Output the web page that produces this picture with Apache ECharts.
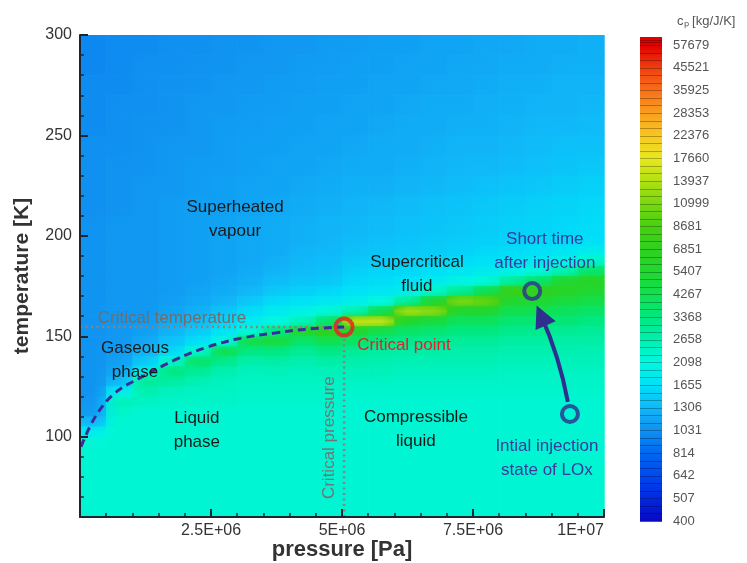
<!DOCTYPE html>
<html><head><meta charset="utf-8">
<script src="https://cdn.jsdelivr.net/npm/echarts@6/dist/echarts.min.js"></script>
<style>html,body{margin:0;padding:0;background:#fff}#c{width:747px;height:563px}</style>
</head><body><div id="c"></div>
<script>
// ---------------- data ----------------
const pressureEdges = [0,0.5e6,1e6,1.5e6,2e6,2.5e6,3e6,3.5e6,4e6,4.5e6,5e6,5.5e6,6e6,6.5e6,7e6,7.5e6,8e6,8.5e6,9e6,9.5e6,1e7];
const temperatureEdges = [300,290,280,270,260,250,240,230,220,210,200,195,190,185,180,175,170,165,160,155,150,145,140,135,130,125,120,115,110,105,100,95,90,85,80,75,70,65,60];
// cp [J/kg/K] per cell, rows from top (300 K) to bottom (60 K), columns from 0 to 1E+07 Pa
const cpGrid = [
 [983,1007,1007,1031,1031,1056,1056,1081,1081,1107,1107,1133,1133,1161,1161,1188,1188,1217,1217,1246],
 [983,1007,1031,1031,1056,1056,1081,1081,1107,1107,1133,1133,1161,1161,1188,1188,1217,1217,1246,1246],
 [1007,1007,1031,1056,1056,1081,1081,1107,1107,1133,1133,1161,1161,1188,1188,1217,1246,1246,1276,1276],
 [1007,1031,1031,1056,1081,1081,1107,1107,1133,1133,1161,1161,1188,1217,1217,1246,1246,1276,1276,1306],
 [1007,1031,1056,1056,1081,1107,1107,1133,1133,1161,1161,1188,1217,1217,1246,1246,1276,1306,1306,1338],
 [1031,1031,1056,1081,1081,1107,1133,1133,1161,1161,1188,1217,1217,1246,1276,1276,1306,1338,1370,1370],
 [1031,1056,1056,1081,1107,1107,1133,1161,1161,1188,1217,1217,1246,1276,1306,1306,1338,1370,1403,1436],
 [1031,1056,1081,1081,1107,1133,1161,1161,1188,1217,1246,1246,1276,1306,1338,1370,1403,1436,1471,1506],
 [1031,1056,1081,1107,1133,1133,1161,1188,1217,1246,1276,1306,1338,1370,1403,1436,1471,1506,1542,1579],
 [1056,1081,1081,1107,1133,1161,1188,1217,1246,1276,1306,1338,1370,1403,1436,1471,1506,1542,1579,1617],
 [1056,1081,1081,1107,1133,1161,1188,1217,1246,1291,1338,1370,1403,1436,1471,1506,1542,1579,1617,1655],
 [1056,1081,1081,1107,1133,1161,1188,1217,1276,1306,1370,1403,1436,1471,1506,1579,1617,1655,1736,1863],
 [1056,1081,1081,1107,1133,1161,1188,1246,1306,1338,1436,1471,1506,1542,1617,1655,1736,1820,2001,2361],
 [1056,1081,1081,1107,1133,1161,1217,1276,1338,1370,1506,1542,1579,1655,1736,1820,1954,2199,2658,3791],
 [1056,1081,1081,1107,1133,1188,1246,1338,1403,1436,1579,1617,1695,1820,2001,2199,2992,3791,5407,6087],
 [1056,1081,1081,1107,1161,1217,1306,1436,1506,1579,1695,1736,1863,2361,2992,4267,7713,6851,6087,5407],
 [1056,1081,1081,1133,1188,1276,1436,1617,1695,1777,1908,2098,2992,5407,10999,9772,5407,5407,4804,4528],
 [1056,1081,1081,1161,1246,1403,1617,1820,1954,2199,2658,4267,12980,11668,5407,5407,4267,4267,4021,3791],
 [1056,1081,1107,1217,1338,1542,1820,2098,2535,3791,14961,14961,5407,4804,4021,4021,3616,3616,3531,3368],
 [1056,1081,1133,1276,1471,1736,2199,3368,5407,6851,5407,4267,3791,3616,3368,3368,3137,3137,3064,2992],
 [1056,1081,1188,1403,1655,2098,4528,4804,3703,4267,3791,3368,3137,3064,2992,2992,2854,2854,2787,2787],
 [1056,1107,1276,1579,2361,4267,3289,3368,2992,3289,2992,2854,2787,2787,2722,2722,2658,2658,2658,2596],
 [1056,1133,1436,2361,3791,3137,2722,2787,2658,2787,2722,2658,2596,2596,2596,2596,2535,2535,2535,2535],
 [1056,1188,1863,3368,2992,2658,2476,2535,2476,2535,2535,2535,2476,2476,2476,2476,2418,2418,2418,2418],
 [1056,1306,2992,2854,2596,2476,2418,2418,2418,2418,2418,2418,2361,2361,2361,2361,2361,2361,2361,2361],
 [1056,1863,2658,2476,2418,2418,2361,2361,2361,2361,2306,2306,2306,2306,2306,2306,2306,2306,2306,2306],
 [1081,2535,2418,2361,2361,2361,2306,2306,2306,2306,2252,2252,2252,2252,2252,2252,2252,2252,2252,2252],
 [1107,2361,2252,2252,2252,2252,2252,2252,2252,2252,2252,2252,2252,2252,2252,2252,2252,2252,2252,2252],
 [1306,2252,2252,2252,2252,2252,2252,2252,2252,2252,2252,2252,2252,2252,2252,2252,2252,2252,2252,2252],
 [1863,2252,2252,2252,2252,2252,2252,2252,2252,2252,2252,2252,2252,2252,2252,2252,2252,2252,2252,2252],
 [2199,2252,2252,2252,2252,2252,2252,2252,2252,2252,2252,2252,2252,2252,2252,2252,2252,2252,2252,2252],
 [2252,2252,2252,2252,2252,2252,2252,2252,2252,2252,2252,2252,2252,2252,2252,2252,2252,2252,2252,2252],
 [2252,2252,2252,2252,2252,2252,2252,2252,2252,2252,2252,2252,2252,2252,2252,2252,2252,2252,2252,2252],
 [2252,2252,2252,2252,2252,2252,2252,2252,2252,2252,2252,2252,2252,2252,2252,2252,2252,2252,2252,2252],
 [2252,2252,2252,2252,2252,2252,2252,2252,2252,2252,2252,2252,2252,2252,2252,2252,2252,2252,2252,2252],
 [2252,2252,2252,2252,2252,2252,2252,2252,2252,2252,2252,2252,2252,2252,2252,2252,2252,2252,2252,2252],
 [2252,2252,2252,2252,2252,2252,2252,2252,2252,2252,2252,2252,2252,2252,2252,2252,2252,2252,2252,2252],
 [2252,2252,2252,2252,2252,2252,2252,2252,2252,2252,2252,2252,2252,2252,2252,2252,2252,2252,2252,2252]
];
const cpLevels = [400,507,642,814,1031,1306,1655,2098,2658,3368,4267,5407,6851,8681,10999,13937,17660,22376,28353,35925,45521,57679];
const xTickLabels = ['', '2.5E+06', '5E+06', '7.5E+06', '1E+07'];
const yTickValues = [100,150,200,250,300];
const satPressure = [0.02e6,0.29e6,0.67e6,1.18e6,1.81e6,2.44e6,3.09e6,3.72e6,4.35e6,5.04e6];
const satTemperature = [95,109.8,121.8,129.7,138.2,144.7,149.1,151.6,153.6,154.6];
const criticalPoint = [5.04e6, 154.6];
const injectionStates = [[9.35e6, 111.3], [8.63e6, 172.5]];
const arrowPath = [[9.31e6, 117.3], [8.80e6, 160.3]];
const regionLabels = [
  {p:2.96e6, t:209, text:'Superheated\nvapour'},
  {p:6.43e6, t:182, text:'Supercritical\nfluid'},
  {p:1.05e6, t:139, text:'Gaseous\nphase'},
  {p:2.23e6, t:104.3, text:'Liquid\nphase'},
  {p:6.41e6, t:104.8, text:'Compressible\nliquid'}
];
const stateLabels = [
  {p:8.87e6, t:193.5, text:'Short time\nafter injection'},
  {p:8.91e6, t:90, text:'Intial injection\nstate of LOx'}
];
const criticalLabels = [
  {p:0.34e6, t:160.1, text:'Critical temperature', kind:'temp'},
  {p:5.29e6, t:146.4, text:'Critical point', kind:'point'},
  {p:4.73e6, t:99.5, text:'Critical pressure', kind:'press'}
];

// ---------------- styles ----------------
const palette = ['#0808c0','#0028e0','#0048f0','#0068f0','#1090f0','#10b8f8','#00e0f8','#00f8e0','#00f0b0','#00e880','#10e050','#20d830','#30d020','#48d010','#78d810','#b0e010','#e8e820','#f8c820','#f8a020','#f87018','#f04010','#e00000'];
const FONT = '"Liberation Sans", Arial, sans-serif';
const axisColor = '#1c2633';
const nLev = cpLevels.length - 1;
const logStep = Math.log(cpLevels[nLev] / cpLevels[0]) / nLev;
function levelIndex(cp){ return Math.log(cp / cpLevels[0]) / logStep; }
function levelColor(l){ return echarts.color.lerp(Math.max(0, Math.min(1, l / nLev)), palette); }

const nCols = pressureEdges.length - 1;
const levelGrid = cpGrid.map(row => row.map(levelIndex));
const fieldData = [];
for (let r = 0; r < cpGrid.length; r++) {
  for (let c = 0; c < nCols; c++) {
    const cp = cpGrid[r][c];
    fieldData.push([pressureEdges[c], pressureEdges[c+1], temperatureEdges[r+1], temperatureEdges[r], cp, levelGrid[r][c]]);
  }
}
const barTop = nLev + 0.353;
const colorbarData = cpLevels.map((v, i) => [i, Math.min(i + 1, barTop)]);

function textRenderer(list, fill, opts) {
  return function (params, api) {
    const item = list[params.dataIndex];
    const pt = api.coord([item.p, item.t]);
    const o = typeof opts === 'function' ? opts(item) : opts;
    return {
      type: 'text', x: pt[0] + (o.dx || 0), y: pt[1] + (o.dy === undefined ? 2 : o.dy), rotation: o.rotation || 0,
      style: { text: item.text, fill: o.fill || fill, font: o.font || ('17px ' + FONT),
        align: o.align || 'center', verticalAlign: 'middle', lineHeight: o.lineHeight || 24 }
    };
  };
}

const chart = echarts.init(document.getElementById('c'), null, {renderer: 'canvas', width: 747, height: 563});
chart.setOption({
  animation: false,
  backgroundColor: '#ffffff',
  title: { text: 'c\u209A [kg/J/K]', left: 672, top: 10, textStyle: { fontSize: 13, fontWeight: 'normal', color: '#555', fontFamily: FONT } },
  grid: [
    { left: 80, top: 35, width: 524, height: 482, outerBoundsMode: 'none', containLabel: false },
    { left: 640, top: 37, width: 22, height: 484, outerBoundsMode: 'none', containLabel: false }
  ],
  xAxis: [
    { type: 'value', gridIndex: 0, min: 0, max: 1e7, interval: 2.5e6, z: 10,
      axisLine: { show: true, onZero: false, lineStyle: { color: axisColor, width: 2 } },
      axisTick: { show: true, inside: true, length: 8, lineStyle: { color: axisColor, width: 2 } },
      minorTick: { show: true, splitNumber: 5, length: 4, lineStyle: { color: axisColor, width: 1.5 } },
      splitLine: { show: false },
      axisLabel: { formatter: v => xTickLabels[Math.round(v / 2.5e6)] || '', fontSize: 16, color: '#333', margin: 6, fontFamily: FONT, alignMaxLabel: 'right' },
      name: 'pressure [Pa]', nameLocation: 'middle', nameGap: 22, nameMoveOverlap: false,
      nameTextStyle: { fontWeight: 'bold', fontSize: 22, color: '#333', fontFamily: FONT } },
    { type: 'value', gridIndex: 1, min: 0, max: 1, show: false }
  ],
  yAxis: [
    { type: 'value', gridIndex: 0, min: 60, max: 300, z: 10,
      axisLine: { show: true, onZero: false, lineStyle: { color: axisColor, width: 2 } },
      axisTick: { show: true, inside: true, length: 8, customValues: yTickValues, lineStyle: { color: axisColor, width: 2 } },
      splitLine: { show: false },
      axisLabel: { customValues: yTickValues, fontSize: 16, color: '#333', margin: 8, fontFamily: FONT },
      name: 'temperature [K]', nameLocation: 'middle', nameGap: 47,
      nameTextStyle: { fontWeight: 'bold', fontSize: 21, color: '#333', fontFamily: FONT } },
    { type: 'value', gridIndex: 0, min: 60, max: 300, interval: 10, position: 'left', z: 10,
      axisLine: { show: false }, axisLabel: { show: false }, splitLine: { show: false },
      axisTick: { show: true, inside: true, length: 4, lineStyle: { color: axisColor, width: 1.5 } } },
    { type: 'value', gridIndex: 1, min: 0, max: barTop, interval: 1, position: 'right',
      axisLine: { show: false }, axisTick: { show: false }, splitLine: { show: false },
      axisLabel: { margin: 11, fontSize: 13, color: '#555', fontFamily: FONT,
        formatter: v => (Math.abs(v - Math.round(v)) < 1e-6 && Math.round(v) <= nLev) ? String(cpLevels[Math.round(v)]) : '' } }
  ],
  visualMap: {
    type: 'continuous', show: false, seriesIndex: 0, dimension: 5,
    min: 0, max: nLev, inRange: { color: palette }
  },
  series: [
    { type: 'custom', name: 'cp field', xAxisIndex: 0, yAxisIndex: 0, silent: true, z: 1,
      data: fieldData, encode: { x: [0, 1], y: [2, 3] },
      renderItem: function (params, api) {
        const a = api.coord([api.value(0), api.value(3)]);
        const b = api.coord([api.value(1), api.value(2)]);
        const r = Math.floor(params.dataIndex / nCols), c = params.dataIndex % nCols;
        const L = levelGrid[r][c];
        const up = r > 0 ? levelGrid[r-1][c] : L, dn = r < levelGrid.length - 1 ? levelGrid[r+1][c] : L;
        const lf = c > 0 ? levelGrid[r][c-1] : L, rt = c < nCols - 1 ? levelGrid[r][c+1] : L;
        const own = api.visual('color');
        const shape = { x: a[0], y: a[1], width: b[0] - a[0] + 0.6, height: b[1] - a[1] + 0.6 };
        return { type: 'group', children: [
          { type: 'rect', shape: shape, style: { fill: new echarts.graphic.LinearGradient(0, 0, 0, 1, [
            { offset: 0, color: levelColor((L + up) / 2) }, { offset: 0.5, color: own }, { offset: 1, color: levelColor((L + dn) / 2) }]) } },
          { type: 'rect', shape: shape, style: { opacity: 0.5, fill: new echarts.graphic.LinearGradient(0, 0, 1, 0, [
            { offset: 0, color: levelColor((L + lf) / 2) }, { offset: 0.5, color: own }, { offset: 1, color: levelColor((L + rt) / 2) }]) } }
        ] };
      } },
    { type: 'custom', name: 'colorbar', xAxisIndex: 1, yAxisIndex: 2, silent: true,
      data: colorbarData, encode: { y: [0, 1] },
      renderItem: function (params, api) {
        const i = params.dataIndex;
        const a = api.coord([0, api.value(1)]);
        const b = api.coord([1, api.value(0)]);
        const c0 = palette[i], c1 = palette[Math.min(i + 1, palette.length - 1)];
        const h = b[1] - a[1];
        const kids = [{ type: 'rect', shape: { x: a[0], y: a[1], width: b[0] - a[0], height: h + 0.6 },
          style: { fill: new echarts.graphic.LinearGradient(0, 1, 0, 0, [{ offset: 0, color: c0 }, { offset: 1, color: c1 }]) } }];
        for (let k = 0; k < 3; k++) {
          const y = Math.round(b[1] - h * k / 3) + 0.5;
          if (y > a[1]) kids.push({ type: 'line', shape: { x1: a[0], y1: y, x2: b[0], y2: y }, style: { stroke: 'rgba(0,0,0,0.28)', lineWidth: 1 } });
        }
        return { type: 'group', children: kids };
      } },
    { type: 'line', name: 'saturation', xAxisIndex: 0, yAxisIndex: 0, z: 5, silent: true,
      data: satPressure.map((p, i) => [p, satTemperature[i]]), smooth: 0.4, symbol: 'none',
      lineStyle: { color: '#3b2c9c', width: 3, type: [8, 5] } },
    { type: 'line', name: 'Tc', xAxisIndex: 0, yAxisIndex: 0, z: 4, silent: true, symbol: 'none',
      data: [[0, criticalPoint[1]], criticalPoint], lineStyle: { color: '#8e7f80', width: 2.5, type: [2, 3.5] } },
    { type: 'line', name: 'pc', xAxisIndex: 0, yAxisIndex: 0, z: 4, silent: true, symbol: 'none',
      data: [[criticalPoint[0], 60], criticalPoint], lineStyle: { color: '#8e7f80', width: 2.5, type: [2, 3.5] } },
    { type: 'lines', coordinateSystem: 'cartesian2d', xAxisIndex: 0, yAxisIndex: 0, z: 6, silent: true,
      data: [{ coords: arrowPath }], symbol: ['none', 'triangle'], symbolSize: [0, 22],
      lineStyle: { color: '#2f2f8f', width: 4, curveness: -0.06, opacity: 1 } },
    { type: 'scatter', name: 'critical point', xAxisIndex: 0, yAxisIndex: 0, z: 8, silent: true,
      data: [criticalPoint], symbol: 'circle', symbolSize: 17,
      itemStyle: { color: 'rgba(255,255,255,0)', borderColor: '#ec1c24', borderWidth: 4 } },
    { type: 'scatter', name: 'injection', xAxisIndex: 0, yAxisIndex: 0, z: 8, silent: true,
      data: injectionStates, symbol: 'circle', symbolSize: 16,
      itemStyle: { color: 'rgba(255,255,255,0)', borderColor: '#2f2f8f', borderWidth: 4 } },
    { type: 'custom', xAxisIndex: 0, yAxisIndex: 0, z: 9, silent: true, data: regionLabels.map(d => [d.p, d.t]),
      renderItem: textRenderer(regionLabels, '#1a1a1a', {}) },
    { type: 'custom', xAxisIndex: 0, yAxisIndex: 0, z: 9, silent: true, data: stateLabels.map(d => [d.p, d.t]),
      renderItem: textRenderer(stateLabels, '#3a3a9c', {}) },
    { type: 'custom', xAxisIndex: 0, yAxisIndex: 0, z: 9, silent: true, data: criticalLabels.map(d => [d.p, d.t]),
      renderItem: textRenderer(criticalLabels, '#6e6e6e', item => item.kind === 'temp' ? { align: 'left', fill: '#6e6e6e' }
        : item.kind === 'point' ? { align: 'left', fill: '#ec1c24' } : { rotation: Math.PI / 2, fill: '#747474', dy: 0, dx: 1 }) }
  ]
});
</script></body></html>
